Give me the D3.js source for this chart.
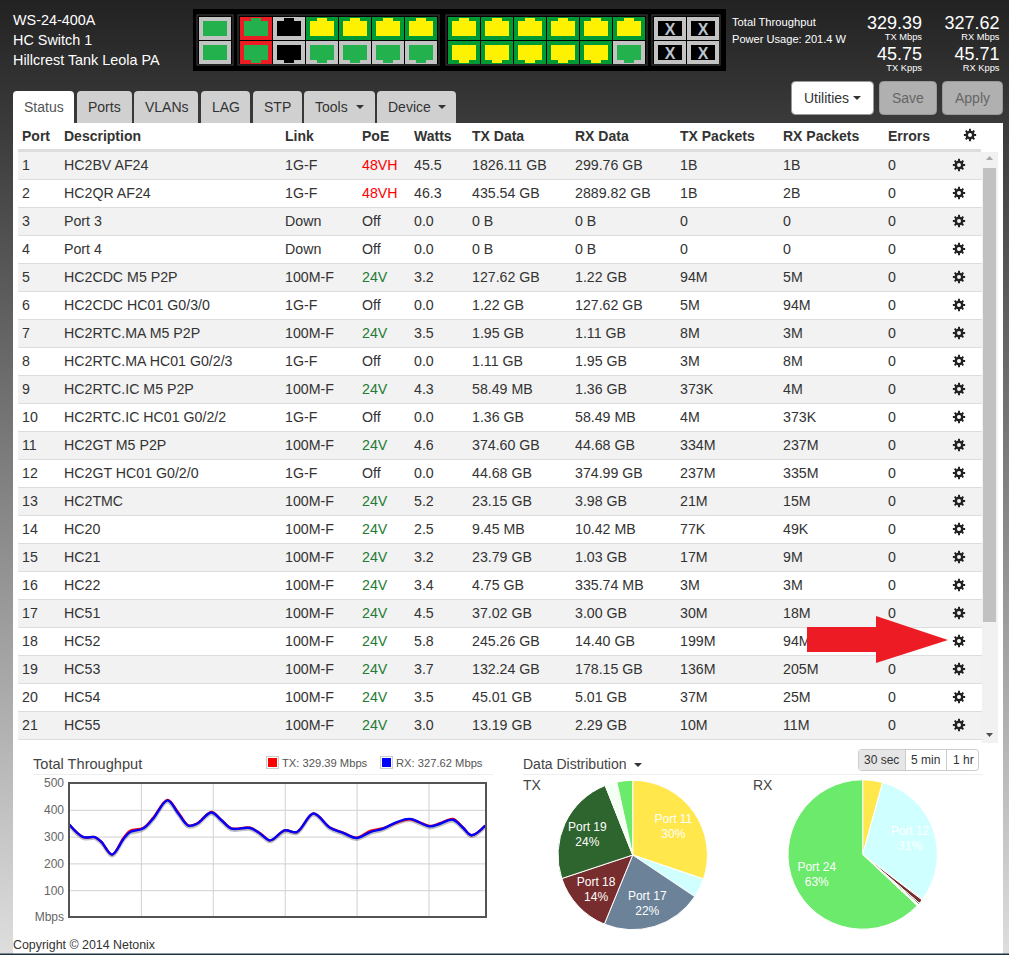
<!DOCTYPE html>
<html>
<head>
<meta charset="utf-8">
<title>WS-24-400A Status</title>
<script src="https://cdn.jsdelivr.net/npm/d3@7"></script>
<style>
  html, body { margin: 0; padding: 0; overflow: hidden; background: #888; }
  svg { display: block; }
  text { font-family: "Liberation Sans", Arial, sans-serif; font-size: 14px; fill: #333; }
</style>
</head>
<body>
<div id="page"></div>
<script>
// table columns
const portNums = ["1","2","3","4","5","6","7","8","9","10","11","12","13","14","15","16","17","18","19","20","21"];
const descriptions = ["HC2BV AF24","HC2QR AF24","Port 3","Port 4","HC2CDC M5 P2P","HC2CDC HC01 G0/3/0","HC2RTC.MA M5 P2P","HC2RTC.MA HC01 G0/2/3","HC2RTC.IC M5 P2P","HC2RTC.IC HC01 G0/2/2","HC2GT M5 P2P","HC2GT HC01 G0/2/0","HC2TMC","HC20","HC21","HC22","HC51","HC52","HC53","HC54","HC55"];
const links = ["1G-F","1G-F","Down","Down","100M-F","1G-F","100M-F","1G-F","100M-F","1G-F","100M-F","1G-F","100M-F","100M-F","100M-F","100M-F","100M-F","100M-F","100M-F","100M-F","100M-F"];
const poeModes = ["48VH","48VH","Off","Off","24V","Off","24V","Off","24V","Off","24V","Off","24V","24V","24V","24V","24V","24V","24V","24V","24V"];
const watts = ["45.5","46.3","0.0","0.0","3.2","0.0","3.5","0.0","4.3","0.0","4.6","0.0","5.2","2.5","3.2","3.4","4.5","5.8","3.7","3.5","3.0"];
const txData = ["1826.11 GB","435.54 GB","0 B","0 B","127.62 GB","1.22 GB","1.95 GB","1.11 GB","58.49 MB","1.36 GB","374.60 GB","44.68 GB","23.15 GB","9.45 MB","23.79 GB","4.75 GB","37.02 GB","245.26 GB","132.24 GB","45.01 GB","13.19 GB"];
const rxData = ["299.76 GB","2889.82 GB","0 B","0 B","1.22 GB","127.62 GB","1.11 GB","1.95 GB","1.36 GB","58.49 MB","44.68 GB","374.99 GB","3.98 GB","10.42 MB","1.03 GB","335.74 MB","3.00 GB","14.40 GB","178.15 GB","5.01 GB","2.29 GB"];
const txPackets = ["1B","1B","0","0","94M","5M","8M","3M","373K","4M","334M","237M","21M","77K","17M","3M","30M","199M","136M","37M","10M"];
const rxPackets = ["1B","2B","0","0","5M","94M","3M","8M","4M","373K","237M","335M","15M","49K","9M","3M","18M","94M","205M","25M","11M"];
const errors = ["0","0","0","0","0","0","0","0","0","0","0","0","0","0","0","0","0","0","0","0","0"];
const headers = ["Port","Description","Link","PoE","Watts","TX Data","RX Data","TX Packets","RX Packets","Errors"];

// switch faceplate port states
const sfpStates = ["sfp","sfp"];
const group2Top = ["poe","down","active","active","active","active"];
const group2Bottom = ["poe","down","idle","idle","idle","idle"];
const group3Top = ["active","active","active","active","active","active"];
const group3Bottom = ["active","active","active","active","active","idle"];

// throughput over the last minute
const seconds = [0,2,3.6,4.5,6,7.6,8.5,10.3,11.7,13.7,15.2,16.6,17.8,19.8,21.2,22.6,25.2,26.6,28,30,31.7,34,36.3,38.2,40,41.9,43.7,45.6,47.4,50.2,51.6,53.4,54.8,56,57.9];
const txMbps = [346,298,298,280,233,296,322,332,370,437,390,342,349,392,362,331,333,312,286,323,317,386,334,314,296,321,332,352,365,340,350,366,334,305,341];
const rxMbps = [346,298,298,280,233,292,317,330,367,435,386,341,348,390,361,330,332,311,286,323,317,386,333,313,295,317,330,354,366,338,348,363,333,305,341];
const yTicks = [0,100,200,300,400,500];
const xTicks = [10,20,30,40,50];

// data distribution, percent
const sliceColors = ["#ffe74c","#d0ffff","#6b8299","#772d2d","#2e642e","#f4fff4","#6bea6b"];
const txPorts = ["Port 11","Port 12","Port 17","Port 18","Port 19","Port 20","Port 24"];
const txShare = [30.2,4.2,21.8,13.7,24.1,2.6,3.4];
const rxPorts = ["Port 11","Port 12","Port 17","Port 18","Port 19","Port 20","Port 24"];
const rxShare = [4.3,30.9,0.2,0.9,0.3,0.4,63];

const svg = d3.select("#page").append("svg").attr("width", 1009).attr("height", 955);

const addText = (g, str, x, y, size, color, opts = {}) => g.append("text")
  .attr("x", x).attr("y", y)
  .attr("text-anchor", opts.anchor || "start")
  .style("font-size", size + "px")
  .style("font-weight", opts.weight || "normal")
  .style("fill", color)
  .text(str);

const bgGrad = svg.append("defs").append("linearGradient")
  .attr("id", "pageBg").attr("x1", 0).attr("y1", 0).attr("x2", 0).attr("y2", 1);
bgGrad.append("stop").attr("offset", 0).attr("stop-color", "#222");
bgGrad.append("stop").attr("offset", 1).attr("stop-color", "#dedede");
svg.append("rect").attr("width", 1009).attr("height", 955).attr("fill", "url(#pageBg)");

// header text
const headerG = svg.append("g");
["WS-24-400A","HC Switch 1","Hillcrest Tank Leola PA"].forEach((t, i) => addText(headerG, t, 13, 25 + i * 20, 14.4, "#fff"));
addText(headerG, "Total Throughput", 732, 26, 11.2, "#fff");
addText(headerG, "Power Usage: 201.4 W", 732, 43, 11.1, "#fff");
const stats = [
  ["329.39","TX Mbps",922,28.5,40], ["327.62","RX Mbps",999.5,28.5,40],
  ["45.75","TX Kpps",922,60,71], ["45.71","RX Kpps",999.5,60,71]
];
stats.forEach(s => {
  addText(headerG, s[0], s[2], s[3], 18, "#fff", { anchor: "end" });
  addText(headerG, s[1], s[2], s[4], 9.3, "#fff", { anchor: "end" });
});

// faceplate
const plate = svg.append("g");
plate.append("rect").attr("x", 193).attr("y", 9).attr("width", 533).attr("height", 62).attr("fill", "#000");

const portColors = {
  sfp: ["#c3c3c3", "#22b14c"],
  poe: ["#ed1c24", "#22b14c"],
  down: ["#c3c3c3", "#000"],
  active: ["#009a35", "#fff200"],
  idle: ["#c3c3c3", "#22b14c"]
};

function drawGroup(x0, tops, bottoms, w) {
  plate.append("rect")
    .attr("x", x0 - 2).attr("y", 15).attr("width", tops.length * w + 3).attr("height", 50)
    .attr("fill", "none").attr("stroke", "#444").attr("stroke-width", 1);
  [tops, bottoms].forEach((row, r) => {
    const y0 = r === 0 ? 17 : 41;
    row.forEach((state, i) => {
      const x = x0 + i * w;
      const c = portColors[state];
      plate.append("rect").attr("x", x).attr("y", y0).attr("width", w - 1).attr("height", 23).attr("fill", c[0]);
      plate.append("rect").attr("x", x + 4).attr("y", y0 + 4).attr("width", w - 9).attr("height", 15).attr("fill", c[1]);
      if (state !== "sfp") {
        plate.append("rect").attr("x", x + 11).attr("y", r === 0 ? y0 + 1 : y0 + 18)
          .attr("width", 10).attr("height", 4).attr("fill", c[1]);
      }
    });
  });
}
drawGroup(199, sfpStates.slice(0, 1), sfpStates.slice(1), 33);
drawGroup(240, group2Top, group2Bottom, 33);
drawGroup(448, group3Top, group3Bottom, 33);

plate.append("rect").attr("x", 652).attr("y", 15).attr("width", 68).attr("height", 50)
  .attr("fill", "none").attr("stroke", "#444");
[0, 1].forEach(r => [0, 1].forEach(c => {
  const x = 654 + c * 33, y = 17 + r * 24;
  plate.append("rect").attr("x", x).attr("y", y).attr("width", 32).attr("height", 23).attr("fill", "#c3c3c3");
  plate.append("rect").attr("x", x + 4).attr("y", y + 4).attr("width", 24).attr("height", 15).attr("fill", "#000");
  addText(plate, "X", x + 16, y + 17.5, 16, "#bcc4cc", { anchor: "middle", weight: "bold" });
}));

// white panel
svg.append("rect").attr("x", 13).attr("y", 123).attr("width", 990).attr("height", 832).attr("fill", "#fff");

// tabs
const tabNames = ["Status","Ports","VLANs","LAG","STP","Tools","Device"];
const tabX = [13,77,134,201,253,304,377];
const tabW = [61,55,64,49,49,71,79];
const tabs = svg.append("g");
tabNames.forEach((name, i) => {
  const x = tabX[i], w = tabW[i], active = i === 0;
  tabs.append("path")
    .attr("d", `M${x},123 V95 Q${x},91 ${x + 4},91 H${x + w - 4} Q${x + w},91 ${x + w},95 V123 Z`)
    .attr("fill", active ? "#fff" : "#d0d0d0");
  addText(tabs, name, x + 11, 112, 14, active ? "#555" : "#333");
});

const caret = (g, x, y, color) => g.append("path")
  .attr("d", `M${x},${y} h8 l-4,4 Z`).attr("fill", color);
caret(tabs, 356, 105, "#333");
caret(tabs, 438, 105, "#333");

// buttons
const buttons = svg.append("g");
[["Utilities",791,83,"#fff","#333",true],["Save",879,58,"#b0b0b0","#666",false],["Apply",942,61,"#b0b0b0","#666",false]].forEach(b => {
  buttons.append("rect").attr("x", b[1] + 0.5).attr("y", 81.5).attr("width", b[2] - 1).attr("height", 33)
    .attr("rx", 4).attr("fill", b[3]).attr("stroke", "#999");
  addText(buttons, b[0], b[1] + 13, 103, 14, b[4]);
});
caret(buttons, 853, 96, "#333");

// table
const colX = [22,64,285,362,414,472,575,680,783,888];
const rowY = d3.scaleLinear().domain([0, 1]).range([152, 180]);
const table = svg.append("g");

headers.forEach((h, i) => addText(table, h, colX[i], 141, 14, "#333", { weight: "bold" }));
table.append("rect").attr("x", 18).attr("y", 149).attr("width", 963).attr("height", 3).attr("fill", "#ddd");

const gearPath = (() => {
  const teeth = 8, outer = 6.2, root = 4.5, hole = 2;
  const pts = [];
  for (let i = 0; i < teeth; i++) {
    const a = i / teeth * 2 * Math.PI, s = Math.PI / teeth;
    pts.push([root, a - s * 0.62], [outer, a - s * 0.38], [outer, a + s * 0.38], [root, a + s * 0.62]);
  }
  const ring = pts.map(p => [p[0] * Math.cos(p[1]), p[0] * Math.sin(p[1])].map(v => v.toFixed(2)).join(",")).join("L");
  return `M${ring}Z M${hole},0 A${hole},${hole} 0 1,0 ${-hole},0 A${hole},${hole} 0 1,0 ${hole},0Z`;
})();
const addGear = (x, y) => table.append("path")
  .attr("d", gearPath).attr("transform", `translate(${x},${y})`)
  .attr("fill", "#222").attr("fill-rule", "evenodd");
addGear(970, 135);

const poeColor = m => m === "48VH" ? "#f00" : m === "24V" ? "#1e7a34" : "#333";
const columns = [portNums, descriptions, links, poeModes, watts, txData, rxData, txPackets, rxPackets, errors];

const rows = table.selectAll("g.row").data(portNums).enter().append("g")
  .attr("class", "row")
  .attr("transform", (d, i) => `translate(0,${rowY(i)})`);
rows.append("rect").attr("x", 18).attr("width", 964).attr("height", 27)
  .attr("fill", (d, i) => i % 2 === 0 ? "#f2f2f2" : "#fff");
rows.append("rect").attr("x", 18).attr("y", 27).attr("width", 964).attr("height", 1).attr("fill", "#ddd");
columns.forEach((col, c) => {
  rows.append("text")
    .attr("x", colX[c]).attr("y", 18)
    .style("font-size", "14.2px")
    .style("fill", (d, i) => c === 3 ? poeColor(col[i]) : "#333")
    .text((d, i) => col[i]);
});
portNums.forEach((d, i) => addGear(959, rowY(i) + 13));

// scrollbar
table.append("rect").attr("x", 982).attr("y", 152).attr("width", 16).attr("height", 591).attr("fill", "#f1f1f1");
table.append("rect").attr("x", 983).attr("y", 168).attr("width", 13).attr("height", 454).attr("fill", "#c1c1c1");
table.append("path").attr("d", "M986,160 l3.5,-4 l3.5,4 Z").attr("fill", "#a8a8a8");
table.append("path").attr("d", "M986,733 l3.5,4 l3.5,-4 Z").attr("fill", "#505050");

// red arrow
svg.append("path")
  .attr("d", "M807,627 H876 V616 L948,640 L876,663 V652 H807 Z")
  .attr("fill", "#ed1c24");

// throughput chart
const chart = svg.append("g");
addText(chart, "Total Throughput", 33, 769, 14.6, "#444");
chart.append("rect").attr("x", 33).attr("y", 774).attr("width", 460).attr("height", 1).attr("fill", "#eee");

[[266,"#f00","TX: 329.39 Mbps"],[380,"#00f","RX: 327.62 Mbps"]].forEach(l => {
  chart.append("rect").attr("x", l[0] + 0.5).attr("y", 756.5).attr("width", 12).attr("height", 12)
    .attr("fill", "#fff").attr("stroke", "#ccc");
  chart.append("rect").attr("x", l[0] + 2).attr("y", 758).attr("width", 9).attr("height", 9).attr("fill", l[1]);
  addText(chart, l[2], l[0] + 16, 767, 11.2, "#555");
});

const x = d3.scaleLinear().domain([0, 58]).range([69, 486]);
const y = d3.scaleLinear().domain([0, 500]).range([917, 783]);

chart.append("g").attr("transform", "translate(69,0)")
  .call(d3.axisLeft(y).tickValues(yTicks).tickSize(-417).tickFormat(""))
  .call(g => g.select(".domain").remove())
  .selectAll("line").attr("stroke", "#d0d0d0");
chart.append("g").attr("transform", "translate(0,917)")
  .call(d3.axisBottom(x).tickValues(xTicks).tickSize(-134).tickFormat(""))
  .call(g => g.select(".domain").remove())
  .selectAll("line").attr("stroke", "#d0d0d0");

const yAxis = chart.append("g").attr("transform", "translate(69,0)")
  .call(d3.axisLeft(y).tickValues(yTicks).tickSize(0).tickPadding(5).tickFormat(d => d === 0 ? "Mbps" : d));
yAxis.select(".domain").remove();
yAxis.selectAll("text").style("font-size", "12px").style("fill", "#666");

svg.select("defs").append("clipPath").attr("id", "plotClip").append("rect")
  .attr("x", 69).attr("y", 783).attr("width", 417).attr("height", 134);

const line = d3.line().curve(d3.curveCatmullRom.alpha(0.5)).x((d, i) => x(seconds[i])).y(d => y(d));
const plot = chart.append("g").attr("clip-path", "url(#plotClip)");
plot.append("path").datum(rxMbps).attr("d", line).attr("transform", "translate(0,1.5)")
  .attr("fill", "none").attr("stroke", "#000").attr("stroke-opacity", 0.25).attr("stroke-width", 3);
plot.append("path").datum(txMbps).attr("d", line).attr("fill", "none").attr("stroke", "#f00").attr("stroke-width", 2.4);
plot.append("path").datum(rxMbps).attr("d", line).attr("fill", "none").attr("stroke", "#00f").attr("stroke-width", 2.4);

chart.append("rect").attr("x", 69).attr("y", 783).attr("width", 417).attr("height", 134)
  .attr("fill", "none").attr("stroke", "#545454").attr("stroke-width", 2);

// pies
const dist = svg.append("g");
addText(dist, "Data Distribution", 523, 769, 14, "#444");
caret(dist, 634, 763, "#333");
dist.append("rect").attr("x", 523).attr("y", 774).attr("width", 460).attr("height", 1).attr("fill", "#eee");
addText(dist, "TX", 523, 790, 14, "#444");
addText(dist, "RX", 753, 790, 14, "#444");

dist.append("rect").attr("x", 858.5).attr("y", 749.5).attr("width", 120).attr("height", 21)
  .attr("rx", 3).attr("fill", "#fff").attr("stroke", "#ccc");
dist.append("rect").attr("x", 859).attr("y", 750).attr("width", 46).attr("height", 20).attr("fill", "#e6e6e6");
[905.5, 946.5].forEach(v => dist.append("line").attr("x1", v).attr("x2", v).attr("y1", 750).attr("y2", 770).attr("stroke", "#ccc"));
[["30 sec",864],["5 min",911],["1 hr",953]].forEach(b => addText(dist, b[0], b[1], 764, 12, "#333"));

function drawPie(cx, cy, r, share, names) {
  const g = dist.append("g").attr("transform", `translate(${cx},${cy})`);
  const slices = d3.pie().sort(null)(share);
  const arc = d3.arc().innerRadius(0).outerRadius(r);
  const labelArc = d3.arc().innerRadius(r * 0.67).outerRadius(r * 0.67);
  g.selectAll("path").data(slices).enter().append("path")
    .attr("d", arc)
    .attr("fill", (d, i) => sliceColors[i])
    .attr("stroke", "#fff").attr("stroke-width", 1);
  slices.forEach((d, i) => {
    if (d.value < 10) return;
    const c = labelArc.centroid(d);
    addText(g, names[i], c[0], c[1] - 3, 12, "#fff", { anchor: "middle" });
    addText(g, Math.round(d.value) + "%", c[0], c[1] + 12, 12, "#fff", { anchor: "middle" });
  });
}
drawPie(632.7, 855, 74.7, txShare, txPorts);
drawPie(862.7, 854.5, 74.7, rxShare, rxPorts);

// footer
addText(svg, "Copyright © 2014 Netonix", 13, 949, 12.4, "#333");
svg.append("rect").attr("y", 953.5).attr("width", 1009).attr("height", 1.5).attr("fill", "#1d3444");
</script>
</body>
</html>
